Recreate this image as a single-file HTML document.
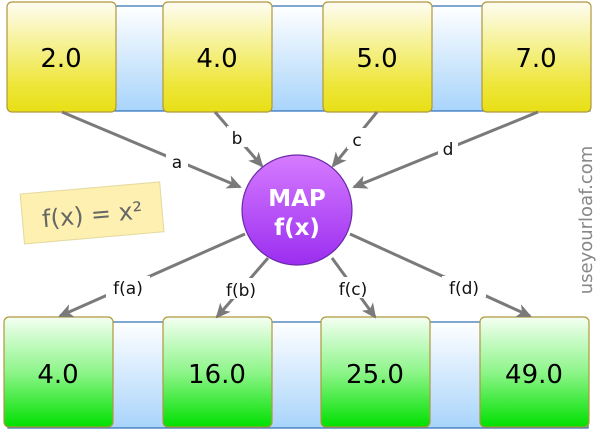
<!DOCTYPE html>
<html><head><meta charset="utf-8"><style>
body{margin:0;background:#fff;width:600px;height:433px;overflow:hidden;font-family:"DejaVu Sans","Liberation Sans",sans-serif}
</style></head><body>
<svg width="600" height="433" viewBox="0 0 600 433" xmlns="http://www.w3.org/2000/svg">
<defs>
<linearGradient id="strip" x1="0" y1="0" x2="0" y2="1"><stop offset="0" stop-color="#ffffff"/><stop offset="1" stop-color="#a8d4fb"/></linearGradient>
<linearGradient id="yel" x1="0" y1="0" x2="0" y2="1"><stop offset="0" stop-color="#fefdf2"/><stop offset="0.75" stop-color="#eee63a"/><stop offset="1" stop-color="#e8df16"/></linearGradient>
<linearGradient id="grn" x1="0" y1="0" x2="0" y2="1"><stop offset="0" stop-color="#f4fff2"/><stop offset="0.5" stop-color="#8ef58a"/><stop offset="1" stop-color="#00e000"/></linearGradient>
<linearGradient id="pur" x1="0" y1="0" x2="0" y2="1"><stop offset="0" stop-color="#d67bff"/><stop offset="1" stop-color="#9b2ef0"/></linearGradient>
<marker id="ah" markerWidth="16" markerHeight="14" refX="13" refY="7" orient="auto" markerUnits="userSpaceOnUse"><path d="M0,0 L15,7 L0,14 L4,7 Z" fill="#7a7a7a"/></marker>
</defs>
<g>
<rect x="10" y="6" width="580" height="105" fill="url(#strip)" stroke="#2a6db5" stroke-width="1.2"/>
<g font-size="26" text-anchor="middle" fill="#000">
<rect x="7" y="2" width="109" height="110" rx="5" fill="url(#yel)" stroke="#b0983c" stroke-width="1.2"/><text x="61" y="67">2.0</text>
<rect x="163" y="2" width="109" height="110" rx="5" fill="url(#yel)" stroke="#b0983c" stroke-width="1.2"/><text x="217" y="67">4.0</text>
<rect x="323" y="2" width="109" height="110" rx="5" fill="url(#yel)" stroke="#b0983c" stroke-width="1.2"/><text x="377" y="67">5.0</text>
<rect x="482" y="2" width="109" height="110" rx="5" fill="url(#yel)" stroke="#b0983c" stroke-width="1.2"/><text x="536" y="67">7.0</text>
</g></g>
<g>
<rect x="8" y="322" width="580" height="106" fill="url(#strip)" stroke="#2a6db5" stroke-width="1.2"/>
<g font-size="26" text-anchor="middle" fill="#000">
<rect x="4" y="317" width="109" height="110" rx="5" fill="url(#grn)" stroke="#b0983c" stroke-width="1.2"/><text x="58" y="383">4.0</text>
<rect x="163" y="317" width="109" height="110" rx="5" fill="url(#grn)" stroke="#b0983c" stroke-width="1.2"/><text x="217" y="383">16.0</text>
<rect x="321" y="317" width="109" height="110" rx="5" fill="url(#grn)" stroke="#b0983c" stroke-width="1.2"/><text x="375" y="383">25.0</text>
<rect x="480" y="317" width="109" height="110" rx="5" fill="url(#grn)" stroke="#b0983c" stroke-width="1.2"/><text x="534" y="383">49.0</text>
</g></g>
<g stroke="#7a7a7a" stroke-width="3" fill="none" marker-end="url(#ah)">
<path d="M62,112 L240,187"/><path d="M215,112 L262,166"/><path d="M377,112 L333,166"/><path d="M538,112 L354,187"/>
<path d="M245,234 L60,316"/><path d="M268,258 L217,317"/><path d="M332,258 L375,317"/><path d="M350,234 L530,316"/>
</g>
<g font-size="17" text-anchor="middle" fill="#111">
<rect x="166" y="150" width="22" height="21" fill="#fff"/><text x="177" y="168">a</text>
<rect x="227" y="126" width="20" height="21" fill="#fff"/><text x="237" y="144">b</text>
<rect x="347" y="128" width="20" height="21" fill="#fff"/><text x="357" y="146">c</text>
<rect x="438" y="136" width="20" height="21" fill="#fff"/><text x="448" y="155">d</text>
<rect x="106" y="276" width="44" height="21" fill="#fff"/><text x="128" y="294">f(a)</text>
<rect x="219" y="278" width="44" height="21" fill="#fff"/><text x="241" y="296">f(b)</text>
<rect x="331" y="277" width="44" height="21" fill="#fff"/><text x="353" y="295">f(c)</text>
<rect x="442" y="276" width="44" height="21" fill="#fff"/><text x="464" y="294">f(d)</text>
</g>
<g>
<circle cx="297" cy="210" r="55" fill="url(#pur)" stroke="#6a2aa8" stroke-width="1.2"/>
<text x="297" y="206" font-size="23" font-weight="bold" fill="#fff" text-anchor="middle">MAP</text>
<text x="297" y="235" font-size="23" font-weight="bold" fill="#fff" text-anchor="middle">f(x)</text>
</g>
<g transform="rotate(-5 91 212)">
<rect x="22" y="188" width="140" height="50" fill="#fdf0b0" stroke="#e3d9a0" stroke-width="1"/>
<text x="92" y="223" font-size="24" fill="#666" text-anchor="middle">f(x) = x²</text>
</g>
<text x="0" y="0" transform="translate(592,220) rotate(-90)" font-size="18" fill="#888" text-anchor="middle">useyourloaf.com</text>
</svg>
</body></html>
